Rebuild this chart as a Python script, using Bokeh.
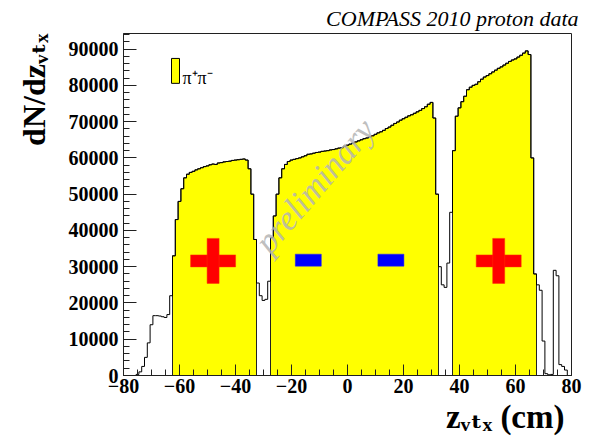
import math
from bokeh.plotting import figure
from bokeh.models import Range1d, SingleIntervalTicker, BasicTickFormatter, Label, BoxAnnotation, Title
from bokeh.embed import file_html
from bokeh.resources import INLINE

# ---------------- data ----------------
z_centers = list(range(-80, 81))  # 1 cm bins, centres in cm
counts_all = [
    0, 0, 0, 0, 0, 300, 1000, 2500, 5000, 9000,                       # -80..-71
    14000, 16500, 16500, 16400, 16200, 16000, 16800, 22000, 33000, 43000,  # -70..-61
    48000, 51500, 54500, 55500, 56000, 56300, 56700, 57000, 57300, 57600,  # -60..-51
    57800, 58100, 58300, 58200, 58600, 58700, 58900, 59000, 59100, 59300,  # -50..-41
    59400, 59500, 59600, 59700, 59400, 57000, 50000, 37500, 25500, 22000,  # -40..-31
    20700, 21000, 26000, 38000, 44000, 50000, 54500, 57000, 58200, 59000,  # -30..-21
    59400, 59600, 59800, 60000, 60300, 60600, 61000, 61100, 61300, 61500,  # -20..-11
    61600, 61800, 61900, 62000, 62200, 62300, 62500, 62700, 62800, 63200,  # -10..-1
    63500, 63800, 64100, 64400, 64700, 65000, 65300, 65500, 65800, 66100,  # 0..9
    66500, 66900, 67200, 67600, 68100, 68500, 69000, 69500, 69900, 70400,  # 10..19
    70800, 71200, 71600, 71900, 72300, 72700, 73100, 73600, 74100, 74800,  # 20..29
    75300, 71000, 50000, 30000, 25000, 24300, 31000, 45000, 62000, 71500,  # 30..39
    73800, 75500, 77000, 78800, 79500, 80000, 80300, 81000, 81700, 82300,  # 40..49
    82700, 83200, 83700, 84200, 84700, 85100, 85600, 86100, 86600, 87000,  # 50..59
    87300, 87800, 88300, 88900, 89500, 88500, 60000, 28000, 25000, 23500,  # 60..69
    9500, 500, 200, 300, 29000, 27500, 3000, 2500, 1500, 0,               # 70..79
    0,                                                                     # 80
]
target_cells = [(-62.5, -32.5), (-27.5, 32.5), (37.5, 67.5)]
plus_z = [-48, 54]
plus_val = [31600, 31600]
minus_z = [-14, 15.5]
minus_val = [31800, 31800]

title_text = "COMPASS 2010 proton data"
x_title = "z\u1d65\u209c\u2093 (cm)"
y_title = "dN/dz\u1d65\u209c\u2093"
legend_text = "\u03c0\u207a\u03c0\u207b"

# yellow (selected) histogram: bins whose centre lies inside a target cell
counts_cut = [c if any(lo < z < hi for lo, hi in target_cells) else 0
              for z, c in zip(z_centers, counts_all)]

X0, X1 = -80, 80
Y0, Y1 = 0, 94300

W, H = 590, 438
FL, FR, FT, FB = 123, 19, 32, 63  # frame borders in px

FONT = "'Liberation Serif', 'Times New Roman', serif"
FONT_SUB = "'Liberation Serif', 'DejaVu Serif', 'DejaVu Sans'"

p = figure(width=W, height=H, x_range=Range1d(X0, X1), y_range=Range1d(Y0, Y1),
           output_backend="svg", toolbar_location=None, title=title_text,
           min_border_left=FL, min_border_right=FR, min_border_top=FT, min_border_bottom=FB)
p.background_fill_color = "white"
p.border_fill_color = "white"
p.xgrid.visible = False
p.ygrid.visible = False
p.outline_line_color = "#202020"
p.outline_line_width = 1

p.title.align = "right"
p.title.offset = -7
p.title.text_font = FONT
p.title.text_font_style = "italic"
p.title.text_font_size = "22px"
p.title.text_color = "black"
p.title.standoff = 6

# image px -> data helpers (frame x 123..571, y 32..375)
def px2x(px):
    return X0 + (px - 123) / 448 * (X1 - X0)

def py2y(py):
    return Y0 + (375 - py) / 343 * (Y1 - Y0)

# histograms
p.varea_step(x=z_centers, y1=[0] * len(z_centers), y2=counts_cut, step_mode="center",
             fill_color="#ffff00")
p.step(z_centers, counts_cut, mode="center", line_color="#222222", line_width=1)
p.step(z_centers, counts_all, mode="center", line_color="black", line_width=1)

# polarisation markers
p.rect(x=plus_z, y=plus_val, width=45, height=12, width_units="screen", height_units="screen",
       fill_color="#ff0000", line_color="#ff3000", line_width=0.5)
p.rect(x=plus_z, y=plus_val, width=12, height=45, width_units="screen", height_units="screen",
       fill_color="#ff0000", line_color="#ff3000", line_width=0.5)
p.rect(x=minus_z, y=minus_val, width=26, height=12, width_units="screen", height_units="screen",
       fill_color="#0000ff", line_color="#2020ff", line_width=0.5)

# axes
for ax in (p.xaxis[0], p.yaxis[0]):
    ax.axis_line_color = "#202020"
    ax.major_tick_line_color = "#202020"
    ax.minor_tick_line_color = "#202020"
    ax.major_tick_out = 0
    ax.minor_tick_out = 0
    ax.minor_tick_in = 6
    ax.major_label_text_font = FONT
    ax.major_label_text_font_style = "bold"
    ax.major_label_text_font_size = "20px"
    ax.major_label_text_color = "black"
p.xaxis[0].ticker = SingleIntervalTicker(interval=20, num_minor_ticks=4)
p.yaxis[0].ticker = SingleIntervalTicker(interval=10000, num_minor_ticks=5)
p.yaxis[0].formatter = BasicTickFormatter(use_scientific=False)
p.xaxis[0].major_tick_in = 11
p.yaxis[0].major_tick_in = 13
p.xaxis[0].major_label_standoff = 3
p.yaxis[0].major_label_standoff = 5

# axis titles (side panels)
p.add_layout(Title(text=x_title, align="right", offset=7, text_font=FONT_SUB,
                   text_font_style="bold", text_font_size="33px", text_color="black",
                   standoff=2), "below")
p.add_layout(Title(text=y_title, align="right", offset=0, text_font=FONT_SUB,
                   text_font_style="bold", text_font_size="32px", text_color="black",
                   vertical_align="top", standoff=24), "left")

# legend
p.add_layout(BoxAnnotation(left=px2x(171), right=px2x(179), top=py2y(57), bottom=py2y(82),
                           fill_color="#ffff00", fill_alpha=1, line_color="black",
                           line_width=1, line_alpha=1))
p.add_layout(Label(x=px2x(182), y=py2y(77), text=legend_text, text_align="left",
                   text_baseline="alphabetic", text_font=FONT, text_font_size="18px",
                   text_color="black"))

# watermark
p.add_layout(Label(x=px2x(261), y=py2y(247), text="preliminary", angle=0.86,
                   text_align="left", text_baseline="alphabetic", text_font=FONT,
                   text_font_style="italic", text_font_size="35px", text_color="#b4b4b4",
                   text_alpha=0.85))

open("out.html", "w").write(file_html(p, INLINE))
